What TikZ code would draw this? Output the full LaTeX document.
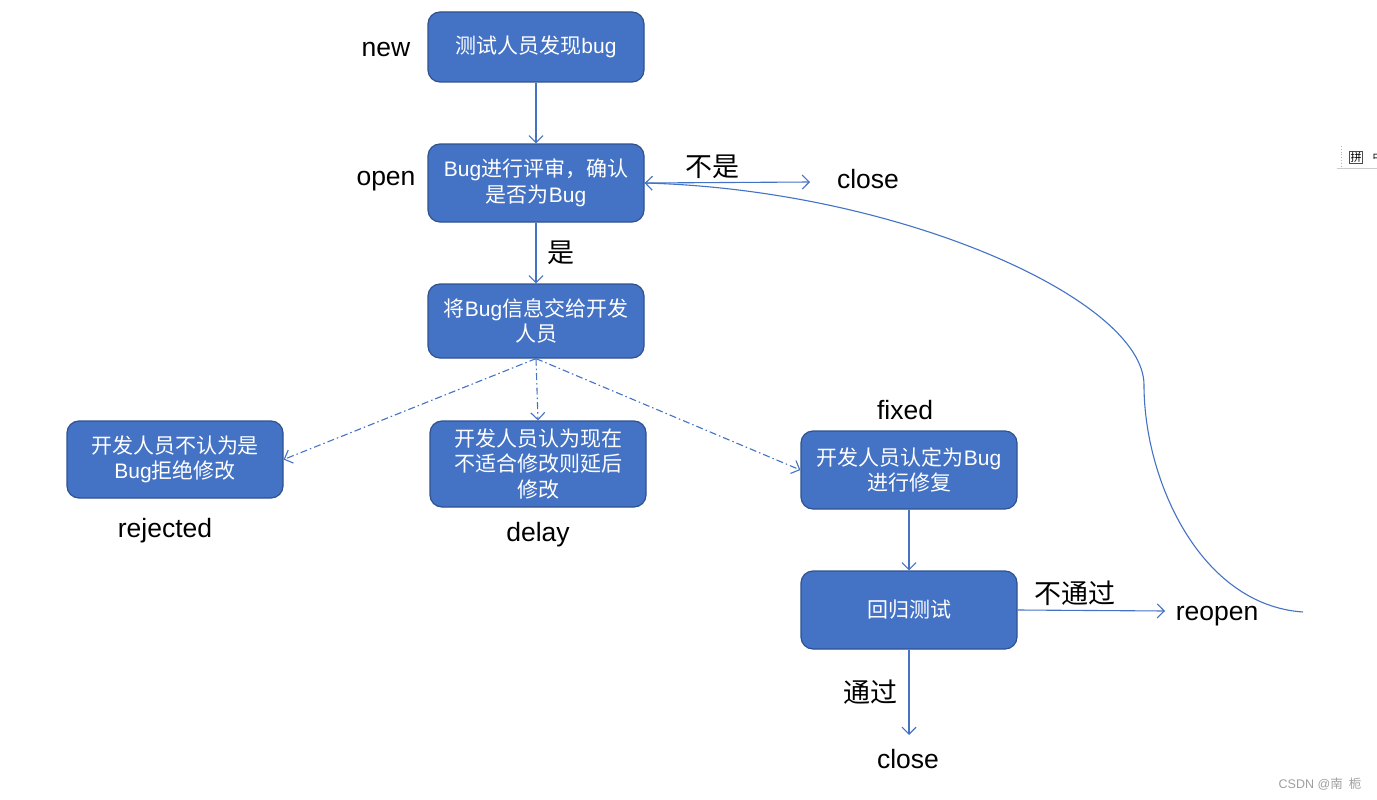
\documentclass[tikz,border=0pt]{standalone}
\usepackage{fontspec}
\setmainfont{Liberation Sans}
\newfontfamily\cjk{Noto Sans CJK SC}
\usetikzlibrary{arrows.meta}
\definecolor{boxfill}{HTML}{4472C4}
\definecolor{boxline}{HTML}{2F528F}
\definecolor{connc}{HTML}{4472C4}
\begin{document}
\begin{tikzpicture}[x=1pt,y=-1pt,
 box/.style={draw=boxline, line width=1.2pt, fill=boxfill, rounded corners=12pt,
   minimum width=216pt, text=white, align=center,
   font=\fontsize{21}{25.5}\selectfont, inner sep=0pt},
 lbl/.style={font=\fontsize{26.5}{30}\selectfont, inner sep=0pt},
 clbl/.style={font=\fontsize{27}{30}\selectfont\cjk, inner sep=0pt},
 conn/.style={draw=connc, line width=1.1pt, -{Straight Barb[length=7pt,width=14pt]}},
 dd/.style={conn, dash pattern=on 7pt off 3pt on 1.5pt off 3pt}]
\useasboundingbox (0,0) rectangle (1377,800);
\fill[white] (0,0) rectangle (1377,800);

% boxes
\node[box, minimum height=70pt] (b1) at (536,47) {{\cjk 测试人员发现}bug};
\node[box, minimum height=78pt] (b2) at (536,183) {Bug{\cjk 进行评审，确认}\\{\cjk 是否为}Bug};
\node[box, minimum height=74pt] (b3) at (536,321) {{\cjk 将}Bug{\cjk 信息交给开发}\\{\cjk 人员}};
\node[box, minimum height=77pt] (b4) at (175,459.5) {{\cjk 开发人员不认为是}\\Bug{\cjk 拒绝修改}};
\node[box, minimum height=86pt] (b5) at (538,464) {{\cjk 开发人员认为现在}\\{\cjk 不适合修改则延后}\\{\cjk 修改}};
\node[box, minimum height=78pt] (b6) at (909,470) {{\cjk 开发人员认定为}Bug\\{\cjk 进行修复}};
\node[box, minimum height=78pt] (b7) at (909,610) {{\cjk 回归测试}};

% labels
\node[lbl] (lnew) at (386,50) {new};
\node[lbl] (lopen) at (386,181) {open};
\node[lbl] (lclose1) at (868,179) {close};
\node[clbl] (lno) at (712,167) {不是};
\node[clbl] (lyes) at (561,253) {是};
\node[lbl] (lfixed) at (905,410) {fixed};
\node[lbl] (lrej) at (165,531) {rejected};
\node[lbl] (ldelay) at (538,535) {delay};
\node[clbl] (lfail) at (1075,593) {不通过};
\node[lbl] (lreopen) at (1217,616) {reopen};
\node[clbl] (lpass) at (870,692) {通过};
\node[lbl] (lclose2) at (908,759) {close};

% connectors
\coordinate (c1) at (810,182);
\coordinate (c2) at (1165,611);
\coordinate (c3) at (909,735);
\coordinate (c4) at (1303,612);
\draw[conn] (b1) -- (b2);
\draw[conn] (b2) -- (b3);
\draw[conn] (b2.east) -- (c1);
\draw[dd] (b3.south) -- (b4.east);
\draw[dd] (b3.south) -- (b5.north);
\draw[dd] (b3.south) -- (b6.west);
\draw[conn] (b6) -- (b7);
\draw[conn] (b7.east) -- (c2);
\draw[conn] (b7.south) -- (c3);
\draw[conn] (c4) .. controls (1200,605) and (1144,480) .. (1144,385)
   .. controls (1144,300) and (900,190) .. (b2.east);

% top-right artifact
\draw[gray!60, line width=0.8pt, dotted] (1341,146) -- (1341,168);
\draw[gray!40, line width=0.6pt] (1337,168.5) -- (1377,168.5);
\node[draw=black!70, line width=0.6pt, inner sep=0.8pt, font=\fontsize{11}{11}\selectfont\cjk] (pin) at (1356,157) {拼};
\node[inner sep=0pt, font=\fontsize{11}{11}\selectfont\cjk] (zh) at (1378,157) {中};

% watermark
\node[text=gray!75, inner sep=0pt, font=\fontsize{12.5}{13}\selectfont] (wm) at (1320,784) {CSDN @{\cjk 南}\hspace{6pt}{\cjk 栀}};
\end{tikzpicture}
\end{document}
